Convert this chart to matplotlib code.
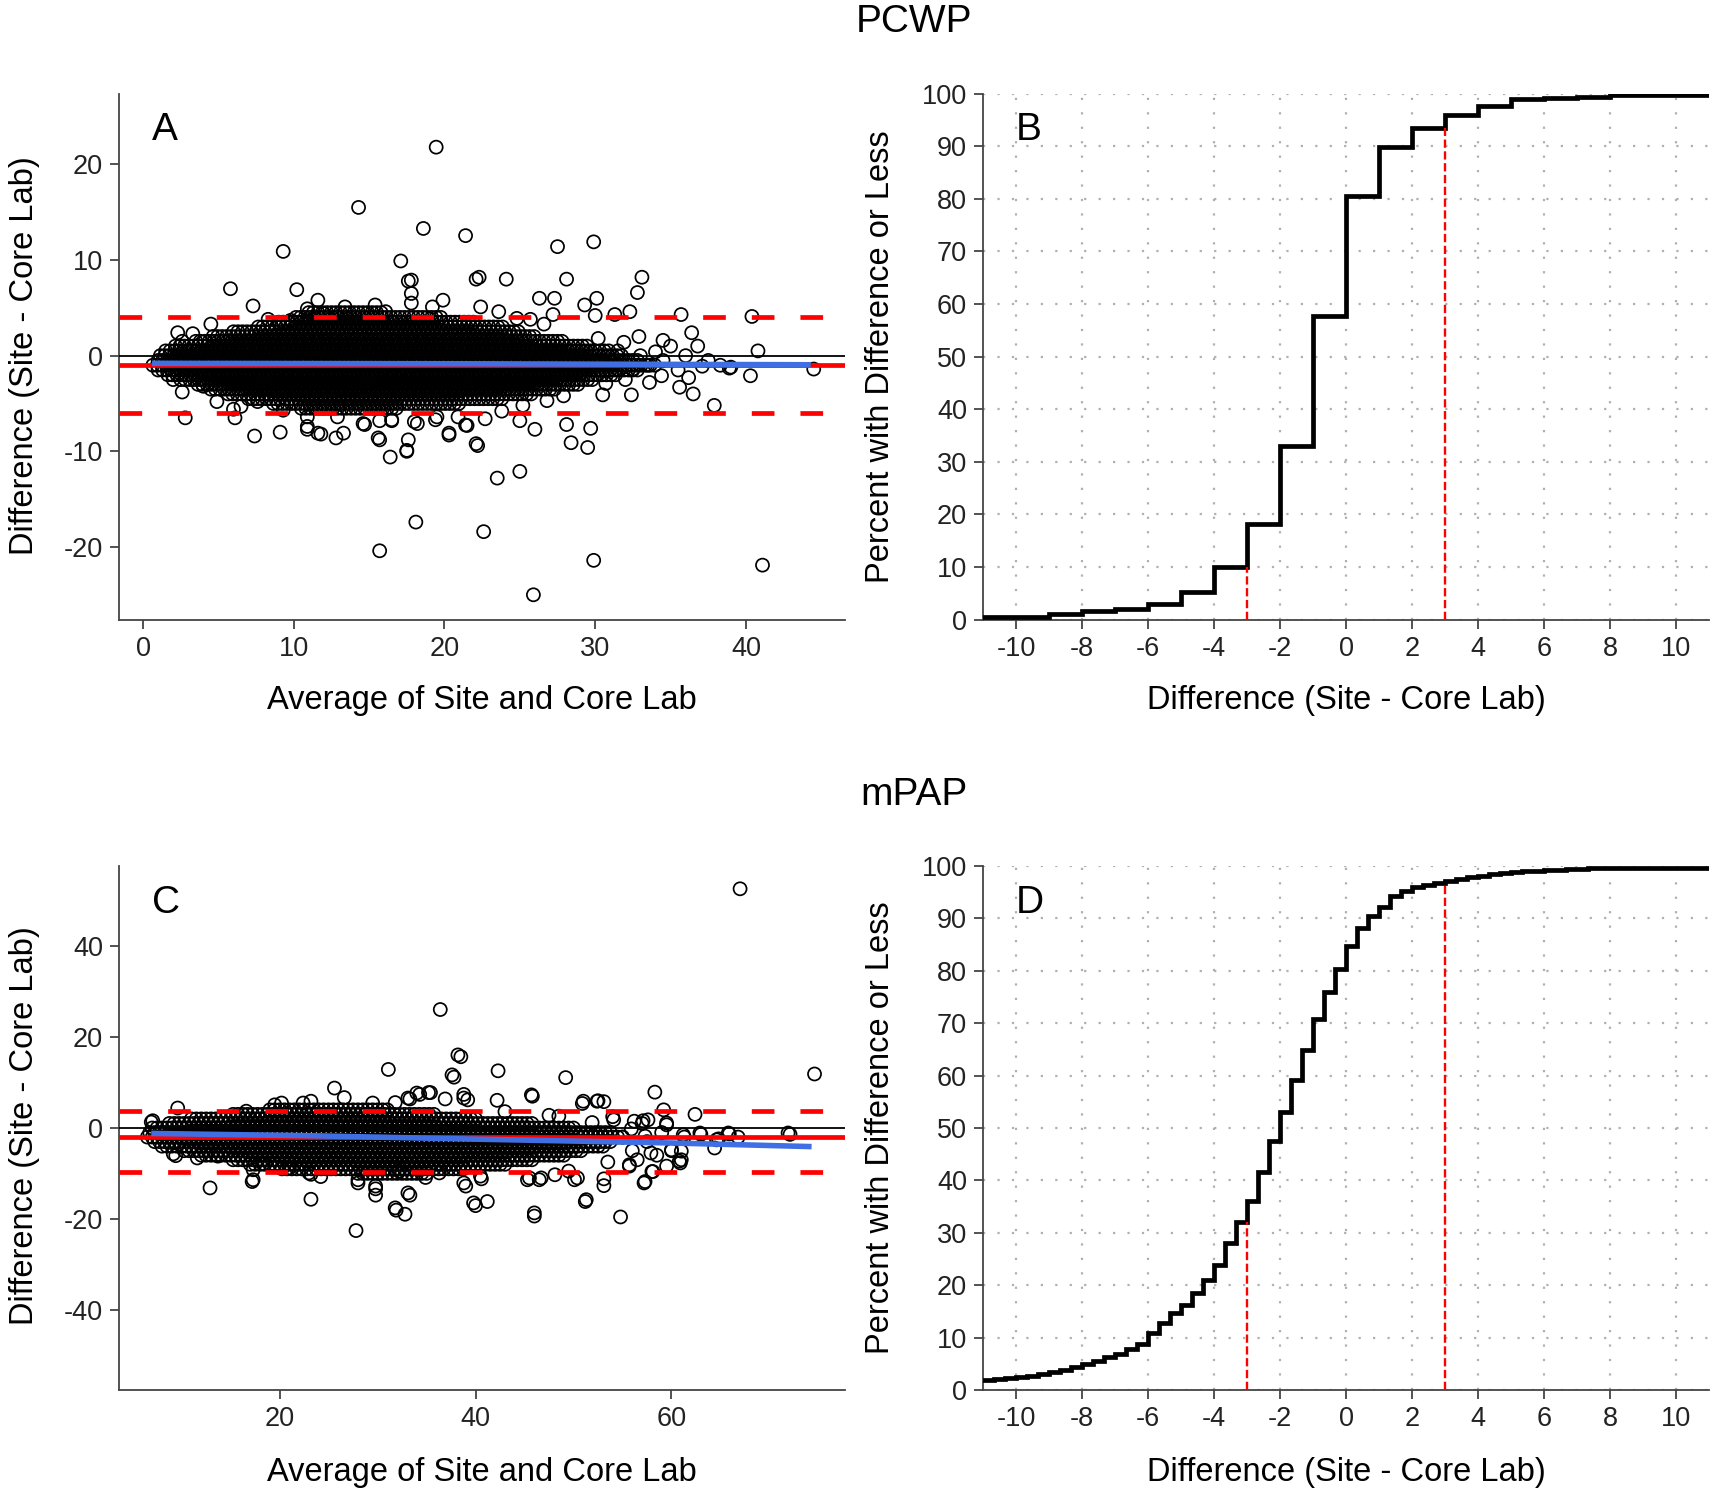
import numpy as np
import matplotlib
matplotlib.use('Agg')
import matplotlib.pyplot as plt

plt.rcParams['font.family'] = ['Liberation Sans', 'DejaVu Sans']
plt.rcParams['axes.unicode_minus'] = False

# ---------------- PCWP: Bland-Altman (panel A) ----------------
# dense part of the cloud: (difference, first average, last average)
pcwp_band = [
    (4.5, 11, 16), (4.0, 10, 20), (3.5, 9, 22), (3.0, 7.5, 24),
    (2.5, 6, 25), (2.0, 4.5, 26), (1.5, 3.5, 28), (1.0, 2, 29.5),
    (0.5, 1.5, 31), (0.0, 1, 32), (-0.5, 1, 33), (-1.0, 0.5, 34),
    (-1.5, 1, 33), (-2.0, 1.5, 31.5), (-2.5, 2.5, 30), (-3.0, 3.5, 29),
    (-3.5, 4.5, 27.5), (-4.0, 5.5, 26), (-4.5, 7, 24), (-5.0, 8.5, 21),
    (-5.5, 10.5, 17),
]
pcwp_points = [
    (19.45, 21.8), (14.3, 15.5), (18.6, 13.3), (21.4, 12.55), (9.3, 10.9),
    (29.9, 11.9), (27.5, 11.4), (17.1, 9.9), (22.1, 8.0), (24.1, 8.0),
    (28.1, 8.0), (33.1, 8.2), (32.8, 6.6), (17.6, 7.8), (17.8, 6.5),
    (10.2, 6.9), (5.8, 7.0), (7.3, 5.2), (19.9, 5.8), (26.3, 6.0),
    (27.3, 6.0), (30.1, 6.0), (32.3, 4.6), (35.7, 4.3), (40.4, 4.1),
    (36.4, 2.4), (40.8, 0.5), (44.5, -1.4), (40.3, -2.1), (37.9, -5.2),
    (36.5, -4.0), (35.6, -3.3), (32.4, -4.1), (2.8, -6.5), (6.1, -6.5),
    (7.4, -8.4), (9.1, -8.0), (10.9, -7.7), (11.8, -8.2), (12.8, -8.6),
    (13.3, -8.1), (14.7, -7.2), (15.7, -8.8), (15.7, -6.8), (16.5, -6.8),
    (16.4, -10.6), (17.5, -10.0), (17.6, -8.8), (18.2, -7.1), (19.4, -6.7),
    (20.3, -8.3), (20.9, -6.4), (21.5, -7.3), (22.2, -9.4), (22.7, -6.6),
    (23.5, -12.8), (25.0, -12.1), (25.0, -6.8), (26.0, -7.7), (28.1, -7.2),
    (28.4, -9.1), (29.5, -9.6), (29.7, -7.6), (18.1, -17.4), (22.6, -18.4),
    (15.7, -20.4), (29.9, -21.4), (41.1, -21.9), (25.9, -25.0), (30.5, -4.1),
    (30.7, -2.9), (32.5, -1.4), (34.4, -2.1), (37.1, -1.1), (38.9, -1.3),
    (34.0, 0.4), (34.5, 1.6), (35.0, 1.0), (31.9, 1.4), (32.9, 2.0),
    (31.3, 4.3), (30.0, 4.2), (25.7, 3.8), (29.3, 5.3), (27.2, 4.3),
    (31.0, -1.0), (31.5, 0.5), (32.0, -2.5), (33.0, 0.0), (33.5, -1.0),
    (34.5, -0.5), (35.5, -1.5), (36.0, 0.0), (36.8, 1.0), (37.5, -0.5),
    (38.3, -1.0), (39.0, -1.2), (36.2, -2.3), (33.6, -2.8), (30.2, 1.8),
    # ragged edge of the cloud
    (4.5, 3.3), (2.3, 2.4), (3.3, 2.3), (2.6, 1.5), (2.0, -2.5),
    (2.6, -3.8), (4.0, -3.2), (4.9, -4.8), (6.5, -5.3), (9.3, -5.7),
    (7.6, -4.8), (10.9, -6.4), (10.9, -7.4), (11.6, -8.1), (12.9, -6.4),
    (14.6, -7.1), (15.6, -8.6), (16.5, -6.7), (17.5, -9.9), (18.0, -6.9),
    (19.5, -6.4), (20.3, -8.1), (21.4, -7.25), (22.1, -9.2), (8.3, 3.8),
    (9.8, 3.7), (11.6, 5.8), (10.9, 4.9), (12.0, 4.4), (13.4, 5.1),
    (15.4, 5.3), (16.1, 4.6), (17.8, 7.9), (17.8, 5.5), (19.2, 5.1),
    (22.3, 8.2), (22.4, 5.1), (23.6, 4.6), (24.8, 3.9), (26.6, 3.3),
    (23.8, -5.8), (25.2, -5.2), (26.8, -4.7), (27.9, -4.2), (6.0, -5.6),
]
pcwp_mean = -1.0
pcwp_limits = [4.0, -6.0]
pcwp_fit_x = [0.6, 22.0, 44.3]
pcwp_fit_y = [-0.8, -0.85, -0.95]

# ---------------- PCWP: cumulative percent (panel B) ----------------
pcwp_cdf_edges = [-11, -9, -8, -7, -6, -5, -4, -3, -2, -1, 0, 1, 2, 3, 4, 5, 6, 7, 8, 11]
pcwp_cdf_pct = [0.5, 1.0, 1.55, 2.0, 2.9, 5.3, 10.1, 18.1, 33.0, 57.8, 80.6,
                89.8, 93.5, 96.0, 97.7, 98.9, 99.2, 99.4, 99.7]

# ---------------- mPAP: Bland-Altman (panel C) ----------------
mpap_band = [
    (4, 19, 31), (3, 15, 36), (2, 11, 40), (1, 8.5, 46), (0, 7, 50),
    (-1, 6.5, 54), (-2, 6.5, 55), (-3, 7, 54), (-4, 8, 53), (-5, 10, 51),
    (-6, 12, 49), (-7, 15, 46), (-8, 17, 43), (-9, 20, 39), (-10, 28, 35),
]
mpap_points = [
    (67.0, 52.7), (36.4, 26.1), (38.5, 15.7), (31.1, 12.9), (37.8, 11.2),
    (42.3, 12.6), (49.2, 11.1), (74.6, 11.9), (25.6, 8.8), (26.6, 6.7),
    (33.3, 6.4), (34.3, 7.4), (35.4, 7.8), (36.9, 6.4), (38.8, 7.4),
    (39.2, 6.2), (42.2, 6.1), (45.8, 7.0), (50.9, 5.4), (52.5, 6.0),
    (53.1, 5.8), (58.3, 7.9), (59.2, 4.0), (62.4, 3.0), (59.5, 0.7),
    (61.3, -2.0), (63.0, -1.4), (64.8, -2.4), (65.9, -1.3), (66.8, -2.0),
    (72.1, -1.4), (64.4, -4.4), (60.9, -7.7), (59.5, -8.4), (58.0, -9.6),
    (57.2, -12.1), (55.7, -8.4), (54.8, -19.6), (51.2, -16.2), (53.1, -11.2),
    (53.1, -12.7), (50.1, -11.4), (48.1, -10.3), (46.0, -19.4), (46.5, -11.4),
    (45.3, -11.4), (41.2, -16.2), (40.0, -17.1), (40.6, -11.2), (39.0, -12.8),
    (33.3, -14.8), (32.8, -19.0), (31.9, -18.1), (29.8, -13.4), (29.8, -14.8),
    (28.0, -12.1), (27.8, -22.6), (23.2, -15.7), (23.2, -10.2), (17.2, -11.8),
    (12.9, -13.2), (9.4, -6.1), (9.6, 4.4), (6.9, 1.3), (31.8, 5.6),
    (48.5, 2.6), (51.9, 1.2), (57.1, 1.6), (55.9, -0.2), (56.0, -5.0),
    (57.5, -3.0), (58.5, -6.0), (60.0, -5.0), (61.0, -7.0), (55.0, -2.0),
    (57.0, 1.0), (59.0, -1.0), (54.0, 2.5), (53.5, -7.5), (56.5, -7.0),
    # ragged edge of the cloud
    (7.05, 1.6), (9.15, -5.7), (11.6, -6.6), (13.7, -6.2), (16.6, 3.7),
    (17.3, -9.2), (17.3, -11.4), (18.3, -7.9), (19.5, 5.1), (20.2, 5.5),
    (21.0, -8.8), (22.4, 5.5), (23.2, 5.9), (23.0, -9.9), (24.2, -10.7),
    (28.0, -11.4), (29.5, 5.5), (29.8, -12.8), (31.8, -17.6), (33.1, -14.3),
    (33.1, 6.6), (34.0, 7.7), (35.2, 7.8), (38.2, 16.1), (37.6, 11.7),
    (38.8, 6.6), (38.8, -12.1), (39.8, -16.5), (40.5, -10.6), (36.3, -9.9),
    (34.9, -10.9), (32.2, -9.5), (45.7, 7.3), (51.0, 5.9), (52.4, 5.9),
    (61.2, -1.5), (62.9, -1.1), (64.6, -2.6), (65.8, -1.1), (71.9, -1.1),
    (60.8, -7.3), (57.3, -11.8), (58.1, -9.6), (51.3, -15.8), (46.0, -18.7),
    (45.5, -11.0), (46.7, -11.0), (50.4, -11.0), (55.7, -8.1), (61.0, -5.1),
    (60.0, -4.8), (57.9, -5.5), (57.3, -1.8), (59.5, 1.1), (56.2, 1.5),
    (54.1, 1.8), (57.6, 1.8), (43.0, 3.6), (47.5, 2.8), (49.5, -9.5),
]
mpap_mean = -2.0
mpap_limits = [3.8, -9.7]
mpap_fit_x = [6.9, 23.0, 41.0, 60.0, 74.3]
mpap_fit_y = [-1.2, -1.7, -2.5, -3.3, -4.1]

# ---------------- mPAP: cumulative percent (panel D) ----------------
# steps every 1/3 mmHg from -11 to 11
mpap_cdf_thirds = list(range(-33, 34))
mpap_cdf_pct = [
    1.8, 2.0, 2.2, 2.4, 2.7, 3.0, 3.4, 3.8, 4.3, 4.9, 5.5, 6.3,
    6.9, 7.8, 8.8, 10.9, 12.7, 14.7, 16.3, 18.5, 21.0, 23.9, 28.0, 32.0,
    36.0, 41.6, 47.6, 53.0, 59.1, 64.9, 70.9, 75.9, 80.3, 84.7, 88.2, 90.5,
    92.2, 94.2, 95.3, 96.0, 96.4, 96.75, 97.25, 97.6, 97.9, 98.2, 98.45, 98.65,
    98.85, 99.0, 99.15, 99.25, 99.35, 99.45, 99.5, 99.55, 99.6, 99.65, 99.65, 99.7,
    99.7, 99.7, 99.7, 99.7, 99.7, 99.7,
]
cutoffs = [-3, 3]

SPINE = '#444444'
TICK_FS = 19.5
LABEL_FS = 23.5


def band_points(rows, step):
    xs, ys = [], []
    for i, (d, x0, x1) in enumerate(rows):
        off = step / 2 if i % 2 else 0.0
        xv = np.arange(x0 + off, x1 + 1e-9, step)
        xs.extend(xv)
        ys.extend([d] * len(xv))
    return np.array(xs), np.array(ys)


def style_axes(ax):
    ax.spines['top'].set_visible(False)
    ax.spines['right'].set_visible(False)
    for s in ('left', 'bottom'):
        ax.spines[s].set_color(SPINE)
        ax.spines[s].set_linewidth(1.3)
    ax.tick_params(direction='out', length=6.5, width=1.3, color=SPINE,
                   labelsize=TICK_FS, labelcolor='#222222', pad=5)


def bland_altman(ax, band, step, pts, mean, limits, fit_x, fit_y, letter):
    bx, by = band_points(band, step)
    px = np.array([p[0] for p in pts])
    py = np.array([p[1] for p in pts])
    ax.scatter(np.r_[bx, px], np.r_[by, py], s=88, facecolors='none',
               edgecolors='black', linewidths=1.25, zorder=2)
    ax.axhline(0, color='black', lw=1.3, zorder=3)
    ax.axhline(mean, color='red', lw=3.4, zorder=3)
    for v in limits:
        ax.axhline(v, color='red', lw=3.4, dashes=(4.8, 5.5), zorder=3)
    ax.plot(fit_x, fit_y, color='#3f6fe3', lw=4, zorder=4, solid_capstyle='butt')
    ax.text(0.045, 0.93, letter, transform=ax.transAxes, fontsize=28,
            ha='left', va='center')
    style_axes(ax)


def cdf_panel(ax, edges, pct, letter):
    edges = np.asarray(edges, dtype=float)
    y = list(pct) + [pct[-1]]
    ax.set_axisbelow(True)
    ax.grid(True, color='#b0b0b0', lw=1.6, linestyle=(0, (1, 5.5)))
    ax.step(edges, y, where='post', color='black', lw=3.4, zorder=3,
            solid_joinstyle='miter')
    for c in cutoffs:
        idx = int(np.argmin(np.abs(edges - c)))
        ax.vlines(c, 0, pct[idx - 1], colors='red', lw=1.7,
                  linestyles=(0, (3.5, 1.5)), zorder=4)
    ax.set_xlim(-11, 11)
    ax.set_ylim(0, 100)
    ax.set_xticks(range(-10, 11, 2))
    ax.set_yticks(range(0, 101, 10))
    ax.text(0.045, 0.93, letter, transform=ax.transAxes, fontsize=28,
            ha='left', va='center')
    style_axes(ax)


fig = plt.figure(figsize=(17.26, 15), dpi=100)

axA = fig.add_axes([0.0689, 0.5869, 0.4209, 0.3507])
bland_altman(axA, pcwp_band, 0.3, pcwp_points, pcwp_mean, pcwp_limits,
             pcwp_fit_x, pcwp_fit_y, 'A')
axA.set_xlim(-1.6, 46.6)
axA.set_ylim(-27.6, 27.4)
axA.set_xticks([0, 10, 20, 30, 40])
axA.set_yticks([-20, -10, 0, 10, 20])

axB = fig.add_axes([0.5695, 0.5869, 0.4209, 0.3507])
cdf_panel(axB, pcwp_cdf_edges, pcwp_cdf_pct, 'B')

axC = fig.add_axes([0.0689, 0.0734, 0.4209, 0.3492])
bland_altman(axC, mpap_band, 0.5, mpap_points, mpap_mean, mpap_limits,
             mpap_fit_x, mpap_fit_y, 'C')
axC.set_xlim(3.6, 77.75)
axC.set_ylim(-57.7, 57.7)
axC.set_xticks([20, 40, 60])
axC.set_yticks([-40, -20, 0, 20, 40])

axD = fig.add_axes([0.5695, 0.0734, 0.4209, 0.3492])
cdf_panel(axD, [t / 3 for t in mpap_cdf_thirds], mpap_cdf_pct, 'D')

fig.text(0.5293, 0.9853, 'PCWP', fontsize=28, ha='center', va='center')
fig.text(0.5293, 0.4703, 'mPAP', fontsize=28, ha='center', va='center')

for x, y in [(0.2793, 0.5327), (0.2793, 0.0183)]:
    fig.text(x, y, 'Average of Site and Core Lab', fontsize=LABEL_FS,
             ha='center', va='center')
for x, y in [(0.780, 0.5327), (0.780, 0.0183)]:
    fig.text(x, y, 'Difference (Site - Core Lab)', fontsize=LABEL_FS,
             ha='center', va='center')
for x, y in [(0.0140, 0.763), (0.0140, 0.2495)]:
    fig.text(x, y, 'Difference (Site - Core Lab)', fontsize=LABEL_FS,
             ha='center', va='center', rotation=90)
for x, y in [(0.5102, 0.762), (0.5102, 0.248)]:
    fig.text(x, y, 'Percent with Difference or Less', fontsize=LABEL_FS,
             ha='center', va='center', rotation=90)

fig.savefig('out.png', dpi=100)
